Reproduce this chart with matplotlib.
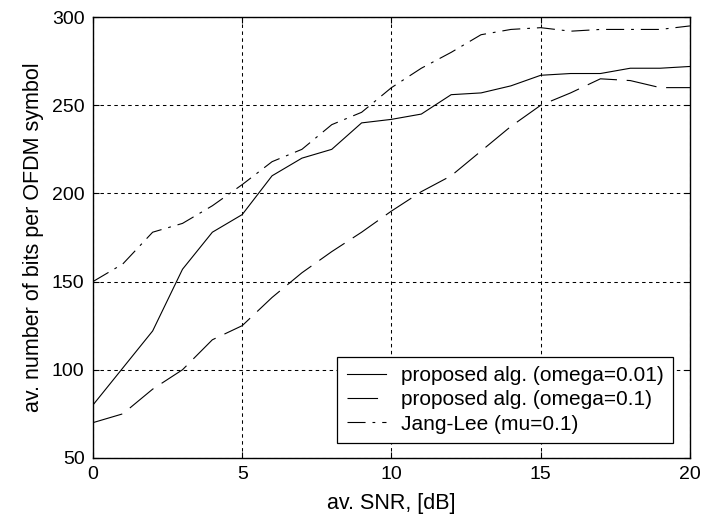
import matplotlib
matplotlib.use('Agg')
import matplotlib.pyplot as plt

snr = [0, 1, 2, 3, 4, 5, 6, 7, 8, 9, 10, 11, 12, 13, 14, 15, 16, 17, 18, 19, 20]
prop_001 = [80, 101, 122, 157, 178, 188, 210, 220, 225, 240, 242, 245, 256, 257, 261, 267,
            268, 268, 271, 271, 272]
prop_01 = [70, 75, 89, 100, 117, 125, 141, 155, 167, 178, 190, 201, 210, 224, 238, 250,
           257, 265, 264, 260, 260]
jang_lee = [150, 160, 178, 183, 193, 205, 218, 225, 239, 246, 260, 271, 280, 290, 293, 294,
            292, 293, 293, 293, 295]

plt.rcParams['font.family'] = ['Liberation Sans', 'DejaVu Sans']
plt.rcParams['font.size'] = 14
plt.rcParams['lines.scale_dashes'] = False

fig = plt.figure(figsize=(7.15, 5.18), dpi=100)
ax = fig.add_axes([0.130, 0.116, 0.835, 0.851])

lw = 0.8
ax.plot(snr, prop_001, color='black', linewidth=lw, linestyle='-',
        label='proposed alg. (omega=0.01)')
ax.plot(snr, prop_01, color='black', linewidth=lw, dashes=(22, 7),
        label='proposed alg. (omega=0.1)')
ax.plot(snr, jang_lee, color='black', linewidth=lw, dashes=(13, 5, 2, 5),
        label='Jang-Lee (mu=0.1)')

ax.set_xlim(0, 20)
ax.set_ylim(50, 300)
ax.set_xticks([0, 5, 10, 15, 20])
ax.set_yticks([50, 100, 150, 200, 250, 300])
ax.grid(True, color='black', linewidth=0.75, dashes=(2.5, 2.5))
ax.tick_params(direction='in', length=4, top=True, right=True, width=0.8, pad=6)
for s in ax.spines.values():
    s.set_linewidth(1.0)

ax.set_xlabel('av. SNR, [dB]', fontsize=15.5, labelpad=7)
ax.set_ylabel('av. number of bits per OFDM symbol', fontsize=15.5, labelpad=6)

leg = ax.legend(loc='lower right', bbox_to_anchor=(0.9715, 0.034), fancybox=False,
                framealpha=1, edgecolor='black', borderpad=0.45, labelspacing=0.25,
                handlelength=1.9, handletextpad=0.7, borderaxespad=0,
                prop={'size': 15})
leg.get_frame().set_linewidth(0.9)

fig.savefig('out.png', dpi=100)
